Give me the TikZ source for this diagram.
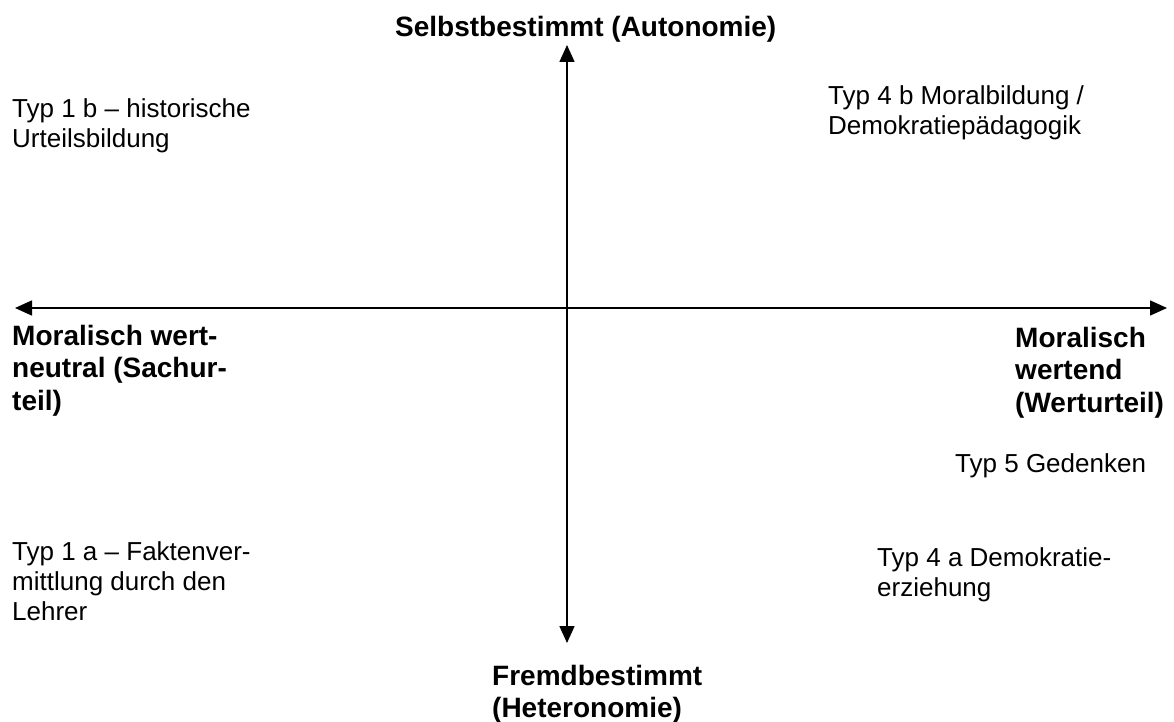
\documentclass[tikz,border=0pt]{standalone}
\usepackage{fontspec}
\setmainfont{Liberation Sans}
\usepackage{tikz}
\usetikzlibrary{positioning,arrows.meta}

\begin{document}
\begin{tikzpicture}[x=1pt,y=-1pt,>={Triangle[length=17pt,width=15pt]},
  achse/.style={<->,line width=1.6pt},
  typ/.style={anchor=north west,inner sep=0pt,align=left,font=\fontsize{26}{30}\selectfont},
  pol/.style={anchor=north west,inner sep=0pt,align=left,font=\fontsize{28}{32.5}\selectfont\bfseries}]
\useasboundingbox (0,0) rectangle (1174,722);

% Achsen
\coordinate (oben) at (567,45);
\coordinate (unten) at (567,643);
\coordinate (links) at (15,308);
\coordinate (rechts) at (1167,308);
\draw[achse] (unten) -- (oben);
\draw[achse] (links) -- (rechts);

% Pole
\node[pol] (auto) at (395,16) {Selbstbestimmt (Autonomie)};
\node[pol] (hetero) at (492,665) {Fremdbestimmt\\(Heteronomie)};
\node[pol] (sach) at (12,325) {Moralisch wert-\\neutral (Sachur-\\teil)};
\node[pol] (wert) at (1015,327) {Moralisch\\wertend\\(Werturteil)};

% Typen
\node[typ] (T1b) at (12,98) {Typ 1 b – historische\\Urteilsbildung};
\node[typ] (T1a) at (12,541) {Typ 1 a – Faktenver-\\mittlung durch den\\Lehrer};
\node[typ] (T4b) at (828,85) {Typ 4 b Moralbildung /\\Demokratiepädagogik};
\node[typ] (T5) at (955,453) {Typ 5 Gedenken};
\node[typ] (T4a) at (877,547) {Typ 4 a Demokratie-\\erziehung};
\end{tikzpicture}
\end{document}
